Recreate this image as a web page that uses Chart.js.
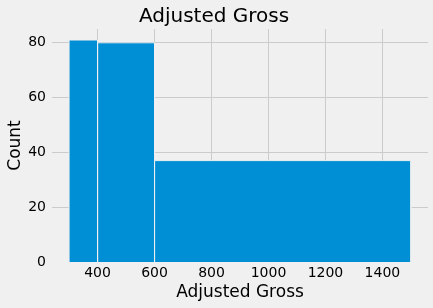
<!DOCTYPE html>
<html>
<head>
<meta charset="utf-8">
<script src="https://cdn.jsdelivr.net/npm/chart.js@4/dist/chart.umd.min.js"></script>
<style>
  html, body { margin: 0; padding: 0; background: #f0f0f0; }
  canvas { display: block; }
</style>
</head>
<body>
<canvas id="histChart" width="433" height="308"></canvas>
<script>
// histogram bins (edges) and counts per bin
const binEdges = [300, 400, 600, 1500];
const counts = [81, 80, 37];
const xTicks = [400, 600, 800, 1000, 1200, 1400];
const yTicks = [0, 20, 40, 60, 80];

// one closed outline per bin, filled down to y = 0
let binSets = counts.map((c, i) => ({
  data: [
    { x: binEdges[i], y: 0 },
    { x: binEdges[i], y: c },
    { x: binEdges[i + 1], y: c },
    { x: binEdges[i + 1], y: 0 },
  ],
  showLine: true,
  fill: "origin",
  backgroundColor: "#008fd5",
  borderColor: "rgba(240,240,240,0.85)",
  borderWidth: 1,
  pointRadius: 0,
  tension: 0,
}));

Chart.defaults.font.family = "'DejaVu Sans', sans-serif";
Chart.defaults.color = "#000";

let ctx = document.getElementById("histChart").getContext("2d");
let histChart = new Chart(ctx, {
  type: "scatter",
  data: { datasets: binSets },
  options: {
    responsive: false,
    animation: false,
    layout: { padding: { left: 0, right: 5, top: 0, bottom: 0 } },
    plugins: {
      legend: { display: false },
      tooltip: { enabled: false },
      title: {
        display: true,
        text: "Adjusted Gross",
        font: { size: 20, weight: "normal" },
        color: "#000",
        padding: { top: 5, bottom: 0 },
      },
    },
    scales: {
      x: {
        type: "linear",
        min: 240,
        max: 1560,
        afterBuildTicks: (scale) => {
          scale.ticks = xTicks.map((v) => ({ value: v }));
        },
        afterFit: (scale) => {
          scale.height = 46;
          scale.paddingLeft = 0;
          scale.paddingRight = 0;
        },
        ticks: {
          font: { size: 14 },
          padding: 3,
          maxRotation: 0,
          callback: (v) => String(v),
        },
        grid: { color: "#cbcbcb", lineWidth: 1, drawTicks: false },
        border: { display: false },
        title: {
          display: true,
          text: "Adjusted Gross",
          font: { size: 17 },
          padding: { top: 0, bottom: 5 },
        },
      },
      y: {
        min: 0,
        max: 85.05,
        afterBuildTicks: (scale) => {
          scale.ticks = yTicks.map((v) => ({ value: v }));
        },
        afterFit: (scale) => {
          scale.width = 52;
          scale.paddingTop = 0;
          scale.paddingBottom = 0;
        },
        ticks: { font: { size: 14 }, padding: 6, callback: (v) => String(v) },
        grid: {
          color: (c) => (c.tick && c.tick.value === 0 ? "rgba(0,0,0,0)" : "#cbcbcb"),
          lineWidth: 1,
          drawTicks: false,
        },
        border: { display: false },
        title: {
          display: true,
          text: "Count",
          font: { size: 17 },
          padding: { top: 5, bottom: 0 },
        },
      },
    },
  },
});
</script>
</body>
</html>
